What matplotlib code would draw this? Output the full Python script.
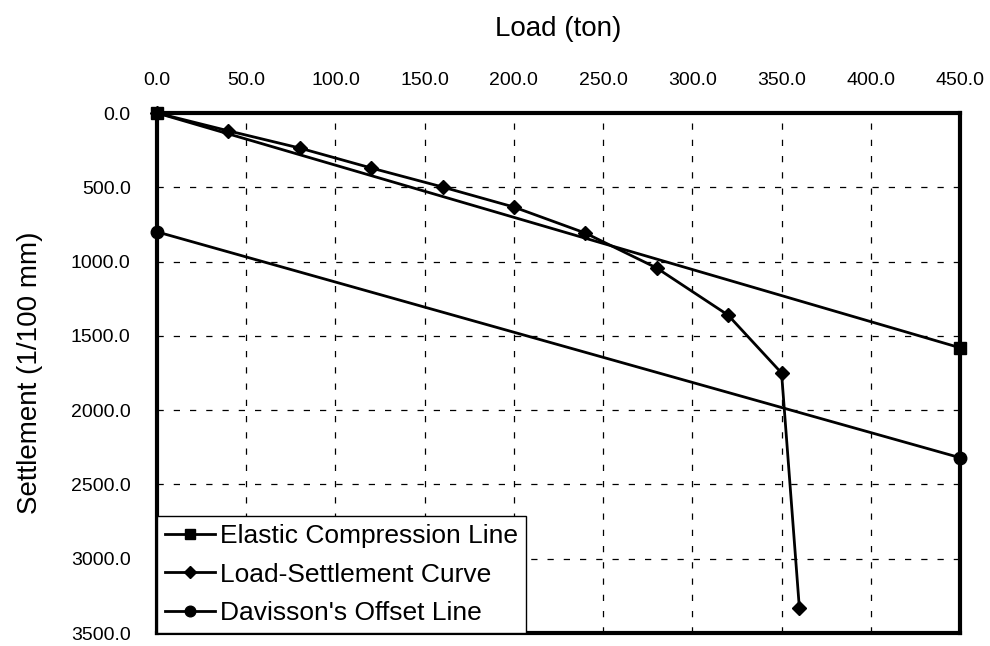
import matplotlib.pyplot as plt
from matplotlib.ticker import FormatStrFormatter, MultipleLocator

plt.rcParams['font.family'] = ['Liberation Sans', 'DejaVu Sans']

# Load (ton) vs settlement (1/100 mm)
elastic_load = [0, 450]
elastic_settle = [0, 1580]

curve_load = [0, 40, 80, 120, 160, 200, 240, 280, 320, 350, 360]
curve_settle = [0, 120, 236, 370, 498, 633, 808, 1043, 1360, 1750, 3335]

offset_load = [0, 450]
offset_settle = [800, 2320]

fig = plt.figure(figsize=(9.9, 6.46), dpi=100)
ax = fig.add_axes([157 / 990, 1 - 633 / 646, 803 / 990, 520 / 646])

ax.plot(elastic_load, elastic_settle, color='black', lw=2, marker='s', ms=9,
        label='Elastic Compression Line', clip_on=False, zorder=4)
ax.plot(curve_load, curve_settle, color='black', lw=2, marker='D', ms=7.5,
        label='Load-Settlement Curve', clip_on=False, zorder=4)
ax.plot(offset_load, offset_settle, color='black', lw=2, marker='o', ms=9,
        label="Davisson's Offset Line", clip_on=False, zorder=4)

ax.set_xlim(0, 450)
ax.set_ylim(3500, 0)
ax.xaxis.set_major_locator(MultipleLocator(50))
ax.yaxis.set_major_locator(MultipleLocator(500))
ax.xaxis.set_major_formatter(FormatStrFormatter('%.1f'))
ax.yaxis.set_major_formatter(FormatStrFormatter('%.1f'))
ax.xaxis.tick_top()
ax.xaxis.set_label_position('top')
ax.tick_params(length=0, labelsize=14)
ax.tick_params(axis='x', pad=17)
ax.tick_params(axis='y', pad=19)

ax.grid(True, color='black', ls=(0, (5, 8)), lw=0.9)
for s in ax.spines.values():
    s.set_linewidth(3)

ax.set_xlabel('Load (ton)', fontsize=20, labelpad=26)
ax.set_ylabel('Settlement (1/100 mm)', fontsize=20, labelpad=20)

leg = ax.legend(loc='lower left', fontsize=19, frameon=True, fancybox=False,
                borderaxespad=0, handlelength=1.9, handletextpad=0.2,
                borderpad=0.3, labelspacing=0.55, markerscale=0.85)
leg.get_frame().set_edgecolor('black')
leg.get_frame().set_linewidth(1)
leg.get_frame().set_alpha(1)

fig.savefig('out.png', dpi=100)
